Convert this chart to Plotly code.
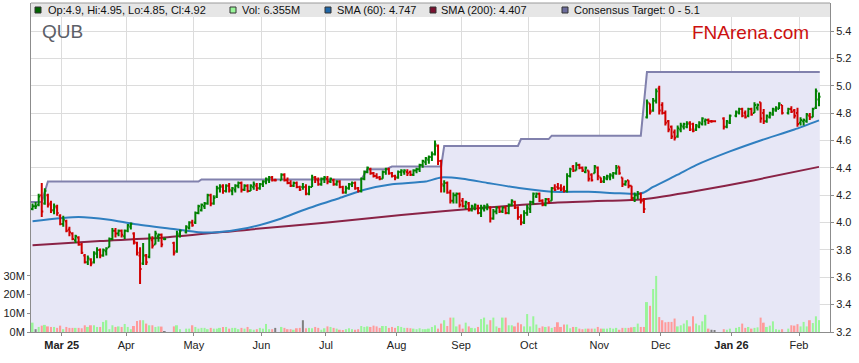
import pandas as pd
import plotly.graph_objects as go

FONT = "Liberation Sans, Arial, sans-serif"

# ---------------- trading calendar (ASX) ----------------
HOLIDAYS = ["2025-04-18", "2025-04-21", "2025-04-25", "2025-06-09",
            "2025-12-25", "2025-12-26", "2026-01-01", "2026-01-26"]

# ---------------- daily prices (Feb 17 2025 .. Feb 10 2026) ----------------
opens = [
    4.10, 4.12, 4.13, 4.20, 4.14, 4.20, 4.14, 4.09, 4.11, 4.05,  # Feb
    3.99, 4.01, 3.95, 3.92, 3.87, 3.89, 3.84, 3.76, 3.71, 3.73, 3.71, 3.77, 3.80, 3.76, 3.79, 3.82, 3.88, 3.94, 3.92, 3.94, 3.90,  # Mar
    3.94, 3.97, 3.92, 3.85, 3.76, 3.70, 3.76, 3.75, 3.87, 3.84, 3.90, 3.91, 3.88, 3.85, 3.79, 3.91, 3.93, 3.96, 4.00,  # Apr
    4.00, 4.07, 4.09, 4.12, 4.14, 4.20, 4.14, 4.19, 4.25, 4.27, 4.23, 4.27, 4.23, 4.24, 4.27, 4.29, 4.24, 4.27, 4.23, 4.26, 4.27, 4.25,  # May
    4.28, 4.30, 4.31, 4.33, 4.31, 4.31, 4.35, 4.31, 4.29, 4.27, 4.29, 4.26, 4.26, 4.26, 4.21, 4.26, 4.33, 4.31, 4.28, 4.32,  # Jun
    4.32, 4.30, 4.31, 4.28, 4.30, 4.26, 4.22, 4.25, 4.28, 4.29, 4.25, 4.23, 4.32, 4.37, 4.39, 4.36, 4.34, 4.33, 4.32, 4.37, 4.39, 4.36, 4.34,  # Jul
    4.33, 4.37, 4.37, 4.37, 4.37, 4.35, 4.38, 4.39, 4.42, 4.44, 4.46, 4.48, 4.50, 4.56, 4.45, 4.27, 4.29, 4.22, 4.16, 4.20, 4.21,  # Aug
    4.16, 4.12, 4.14, 4.09, 4.11, 4.12, 4.07, 4.10, 4.11, 4.11, 4.03, 4.08, 4.11, 4.08, 4.11, 4.07, 4.13, 4.15, 4.11, 4.04, 4.00, 4.07,  # Sep
    4.10, 4.15, 4.19, 4.21, 4.16, 4.13, 4.17, 4.16, 4.25, 4.26, 4.25, 4.25, 4.23, 4.34, 4.41, 4.38, 4.42, 4.40, 4.37, 4.38, 4.35, 4.36, 4.40,  # Oct
    4.33, 4.30, 4.32, 4.33, 4.34, 4.36, 4.41, 4.33, 4.28, 4.31, 4.27, 4.18, 4.20, 4.21, 4.16, 4.77, 4.87, 4.82, 4.89, 4.98,  # Nov
    4.86, 4.80, 4.74, 4.70, 4.66, 4.63, 4.68, 4.70, 4.70, 4.73, 4.72, 4.68, 4.70, 4.72, 4.74, 4.75, 4.74, 4.74, 4.76, 4.70, 4.73,  # Dec
    4.78, 4.80, 4.83, 4.80, 4.78, 4.83, 4.80, 4.84, 4.88, 4.80, 4.74, 4.77, 4.79, 4.82, 4.83, 4.86, 4.80, 4.83, 4.82, 4.80,  # Jan
    4.73, 4.74, 4.74, 4.78, 4.77, 4.84, 4.90,  # Feb
]
highs = [
    4.14, 4.15, 4.21, 4.29, 4.25, 4.21, 4.16, 4.14, 4.13, 4.06,
    4.05, 4.02, 3.97, 3.93, 3.91, 3.90, 3.85, 3.77, 3.76, 3.74, 3.79, 3.82, 3.81, 3.81, 3.82, 3.89, 3.96, 3.96, 3.95, 3.95, 3.95,
    3.99, 4.00, 3.93, 3.86, 3.82, 3.85, 3.77, 3.92, 3.90, 3.94, 3.92, 3.92, 3.89, 3.86, 3.94, 3.95, 3.98, 4.01, 4.02,
    4.08, 4.13, 4.14, 4.15, 4.21, 4.21, 4.20, 4.27, 4.28, 4.28, 4.28, 4.29, 4.26, 4.28, 4.30, 4.30, 4.28, 4.28, 4.28, 4.30, 4.29, 4.29,
    4.31, 4.33, 4.34, 4.34, 4.32, 4.36, 4.36, 4.33, 4.31, 4.30, 4.30, 4.27, 4.29, 4.28, 4.27, 4.35, 4.34, 4.33, 4.33, 4.34,
    4.34, 4.33, 4.32, 4.31, 4.31, 4.27, 4.27, 4.29, 4.30, 4.30, 4.26, 4.33, 4.38, 4.41, 4.40, 4.37, 4.36, 4.34, 4.38, 4.40, 4.40, 4.37, 4.35,
    4.38, 4.39, 4.39, 4.39, 4.38, 4.39, 4.40, 4.43, 4.46, 4.48, 4.49, 4.52, 4.60, 4.57, 4.46, 4.31, 4.30, 4.24, 4.22, 4.22, 4.22,
    4.18, 4.16, 4.15, 4.13, 4.14, 4.13, 4.13, 4.13, 4.14, 4.12, 4.10, 4.12, 4.12, 4.12, 4.12, 4.14, 4.17, 4.16, 4.12, 4.06, 4.09, 4.13,
    4.16, 4.22, 4.22, 4.22, 4.17, 4.18, 4.18, 4.26, 4.28, 4.29, 4.28, 4.27, 4.36, 4.40, 4.42, 4.44, 4.43, 4.41, 4.41, 4.38, 4.36, 4.42, 4.41,
    4.33, 4.34, 4.35, 4.36, 4.37, 4.42, 4.41, 4.33, 4.31, 4.31, 4.27, 4.22, 4.23, 4.22, 4.18, 4.90, 4.87, 4.91, 4.98, 5.00,
    4.88, 4.82, 4.75, 4.71, 4.68, 4.71, 4.73, 4.73, 4.74, 4.74, 4.73, 4.72, 4.74, 4.77, 4.76, 4.76, 4.75, 4.74, 4.77, 4.75, 4.79,
    4.82, 4.84, 4.84, 4.82, 4.84, 4.84, 4.88, 4.87, 4.88, 4.83, 4.79, 4.81, 4.84, 4.85, 4.88, 4.86, 4.84, 4.85, 4.83, 4.84,
    4.77, 4.76, 4.80, 4.80, 4.84, 4.98, 4.95,
]
lows = [
    4.09, 4.10, 4.12, 4.04, 4.13, 4.11, 4.07, 4.06, 4.05, 3.98,
    3.97, 3.93, 3.90, 3.87, 3.85, 3.83, 3.77, 3.70, 3.69, 3.68, 3.70, 3.74, 3.74, 3.75, 3.76, 3.82, 3.87, 3.89, 3.90, 3.89, 3.88,
    3.93, 3.95, 3.84, 3.76, 3.55, 3.69, 3.69, 3.74, 3.81, 3.84, 3.86, 3.82, 3.87, 3.76, 3.78, 3.89, 3.92, 3.95, 3.97,
    3.99, 4.06, 4.08, 4.10, 4.13, 4.12, 4.13, 4.18, 4.22, 4.21, 4.22, 4.22, 4.20, 4.22, 4.25, 4.22, 4.23, 4.22, 4.23, 4.24, 4.23, 4.24,
    4.26, 4.28, 4.29, 4.30, 4.30, 4.31, 4.30, 4.28, 4.26, 4.26, 4.25, 4.23, 4.24, 4.20, 4.20, 4.26, 4.29, 4.27, 4.27, 4.29,
    4.28, 4.29, 4.27, 4.27, 4.25, 4.21, 4.21, 4.24, 4.26, 4.24, 4.22, 4.22, 4.31, 4.36, 4.35, 4.33, 4.32, 4.31, 4.32, 4.35, 4.35, 4.33, 4.31,
    4.32, 4.34, 4.35, 4.34, 4.34, 4.34, 4.36, 4.37, 4.40, 4.42, 4.43, 4.45, 4.49, 4.42, 4.22, 4.22, 4.21, 4.14, 4.14, 4.14, 4.11,
    4.11, 4.10, 4.08, 4.08, 4.09, 4.06, 4.04, 4.08, 4.09, 4.00, 4.02, 4.06, 4.07, 4.07, 4.06, 4.06, 4.12, 4.10, 4.02, 3.98, 3.99, 4.05,
    4.07, 4.13, 4.18, 4.15, 4.12, 4.12, 4.14, 4.16, 4.23, 4.24, 4.23, 4.22, 4.22, 4.33, 4.37, 4.38, 4.39, 4.37, 4.36, 4.30, 4.30, 4.36, 4.31,
    4.29, 4.29, 4.31, 4.31, 4.32, 4.35, 4.35, 4.26, 4.27, 4.25, 4.16, 4.15, 4.17, 4.14, 4.07, 4.76, 4.79, 4.81, 4.87, 4.79,
    4.79, 4.71, 4.66, 4.61, 4.60, 4.62, 4.66, 4.68, 4.69, 4.67, 4.66, 4.67, 4.69, 4.71, 4.71, 4.72, 4.73, 4.74, 4.68, 4.69, 4.72,
    4.77, 4.79, 4.77, 4.76, 4.77, 4.78, 4.80, 4.82, 4.73, 4.72, 4.73, 4.76, 4.78, 4.81, 4.83, 4.79, 4.79, 4.80, 4.76, 4.70,
    4.71, 4.71, 4.73, 4.75, 4.77, 4.83, 4.85,
]
closes = [
    4.12, 4.12, 4.19, 4.08, 4.23, 4.13, 4.09, 4.12, 4.07, 3.99,
    4.02, 3.94, 3.93, 3.88, 3.90, 3.84, 3.78, 3.71, 3.74, 3.70, 3.78, 3.80, 3.76, 3.80, 3.81, 3.88, 3.94, 3.92, 3.94, 3.91, 3.94,
    3.98, 3.99, 3.86, 3.78, 3.66, 3.76, 3.71, 3.89, 3.83, 3.92, 3.91, 3.84, 3.88, 3.78, 3.92, 3.94, 3.97, 4.00, 3.98,
    4.07, 4.12, 4.13, 4.14, 4.20, 4.14, 4.18, 4.25, 4.26, 4.23, 4.27, 4.24, 4.25, 4.27, 4.29, 4.24, 4.27, 4.23, 4.27, 4.28, 4.25, 4.28,
    4.30, 4.32, 4.33, 4.31, 4.31, 4.35, 4.31, 4.29, 4.27, 4.29, 4.26, 4.24, 4.26, 4.21, 4.26, 4.33, 4.32, 4.28, 4.32, 4.33,
    4.30, 4.32, 4.28, 4.30, 4.26, 4.22, 4.25, 4.28, 4.29, 4.25, 4.23, 4.32, 4.37, 4.40, 4.36, 4.34, 4.33, 4.32, 4.37, 4.39, 4.36, 4.34, 4.33,
    4.37, 4.38, 4.38, 4.36, 4.35, 4.38, 4.39, 4.42, 4.45, 4.47, 4.48, 4.50, 4.57, 4.45, 4.28, 4.29, 4.22, 4.16, 4.20, 4.21, 4.13,
    4.12, 4.15, 4.09, 4.12, 4.13, 4.07, 4.11, 4.12, 4.12, 4.03, 4.08, 4.11, 4.08, 4.11, 4.07, 4.13, 4.16, 4.11, 4.04, 4.00, 4.07, 4.11,
    4.15, 4.21, 4.21, 4.16, 4.13, 4.17, 4.15, 4.25, 4.24, 4.25, 4.24, 4.23, 4.34, 4.39, 4.38, 4.42, 4.40, 4.38, 4.40, 4.32, 4.31, 4.41, 4.34,
    4.30, 4.33, 4.34, 4.35, 4.36, 4.40, 4.36, 4.28, 4.30, 4.27, 4.18, 4.20, 4.21, 4.16, 4.10, 4.88, 4.81, 4.89, 4.96, 4.82,
    4.80, 4.73, 4.68, 4.63, 4.62, 4.69, 4.71, 4.72, 4.72, 4.68, 4.67, 4.71, 4.73, 4.76, 4.75, 4.74, 4.74, 4.74, 4.70, 4.74, 4.78,
    4.81, 4.83, 4.78, 4.77, 4.83, 4.79, 4.86, 4.86, 4.76, 4.74, 4.78, 4.80, 4.83, 4.84, 4.87, 4.80, 4.83, 4.81, 4.78, 4.72,
    4.75, 4.75, 4.79, 4.77, 4.83, 4.96, 4.92,
]
volumes_m = [
    5.0, 1.5, 2.7, 3.4, 3.8, 3.0, 2.7, 2.7, 2.2, 3.4,
    1.5, 2.7, 2.2, 2.2, 2.2, 2.2, 2.0, 3.6, 2.7, 3.6, 3.6, 2.7, 2.7, 5.4, 6.3, 1.5, 3.6, 2.7, 3.0, 2.7, 4.3,
    2.7, 1.5, 3.2, 5.9, 6.3, 6.3, 4.5, 3.6, 3.6, 2.7, 3.0, 2.9, 0.4, 3.0, 3.6, 1.5, 1.8, 1.8, 3.6,
    2.7, 1.8, 2.2, 2.2, 1.5, 2.2, 1.8, 1.8, 2.2, 2.7, 2.7, 1.8, 2.2, 2.2, 1.5, 2.2, 1.8, 2.7, 1.5, 1.2, 1.5, 2.2,
    1.8, 4.3, 1.5, 1.5, 2.2, 2.7, 2.2, 1.5, 1.5, 1.2, 2.0, 2.2, 6.3, 2.0, 2.2, 2.0, 2.7, 2.2, 1.2, 2.0,
    3.0, 2.7, 2.2, 1.8, 1.2, 1.0, 1.5, 2.0, 1.5, 1.2, 1.5, 3.2, 2.7, 3.0, 2.7, 3.4, 3.0, 2.2, 3.2, 3.2, 2.2, 2.7, 2.2,
    3.2, 2.7, 2.2, 2.2, 2.0, 1.8, 1.5, 2.0, 1.5, 1.5, 1.8, 2.7, 3.6, 1.8, 4.5, 6.3, 3.2, 7.7, 7.7, 3.0, 4.0,
    1.8, 5.0, 3.0, 2.2, 2.0, 2.7, 6.9, 7.7, 4.0, 6.3, 7.7, 3.0, 2.2, 7.7, 7.7, 3.6, 3.6, 3.0, 5.0, 4.2, 3.0, 9.6,
    3.0, 8.4, 4.0, 2.2, 3.0, 2.7, 3.0, 2.2, 2.7, 5.2, 2.7, 4.0, 4.0, 2.0, 2.7, 2.7, 1.8, 1.5, 1.8, 1.8, 1.8, 1.8, 2.7,
    1.8, 1.8, 1.8, 2.2, 1.8, 2.2, 1.2, 2.2, 2.2, 2.2, 2.5, 2.7, 4.5, 2.7, 2.7, 16.0, 14.0, 23.0, 30.0, 8.0,
    6.3, 5.2, 5.4, 5.4, 7.2, 3.0, 3.6, 4.5, 6.3, 3.0, 8.4, 4.5, 3.6, 5.7, 9.2, 1.8, 1.2, 0.6, 1.5, 1.2, 1.8,
    2.2, 2.7, 4.5, 2.2, 2.7, 1.8, 2.2, 2.5, 7.7, 5.0, 2.7, 3.4, 5.7, 1.5, 1.2, 1.5, 1.8, 3.6, 3.4, 4.2,
    3.0, 5.4, 3.0, 6.3, 4.8, 8.4, 6.355,
]

# ---------------- moving averages ----------------
sma60_dates = ["2025-02-17", "2025-03-10", "2025-03-24", "2025-04-03", "2025-04-23", "2025-05-02",
               "2025-05-12", "2025-05-26", "2025-06-10", "2025-06-19", "2025-07-07", "2025-07-17",
               "2025-07-30", "2025-08-14", "2025-08-21", "2025-09-01", "2025-09-11", "2025-09-26",
               "2025-10-10", "2025-10-28", "2025-11-10", "2025-11-19", "2025-11-21", "2025-11-26",
               "2025-12-08", "2025-12-16", "2025-12-31", "2026-01-14", "2026-01-29", "2026-02-10"]
sma60_vals = [4.01, 4.04, 4.02, 3.99, 3.95, 3.93, 3.93, 3.96, 4.03, 4.09, 4.18, 4.24, 4.28, 4.30, 4.33,
              4.32, 4.29, 4.25, 4.225, 4.225, 4.215, 4.21, 4.22, 4.26, 4.35, 4.42, 4.52, 4.60, 4.68, 4.747]

sma200_dates = ["2025-02-17", "2025-03-19", "2025-04-17", "2025-05-27", "2025-07-01", "2025-08-04",
                "2025-09-10", "2025-10-13", "2025-11-17", "2025-11-21", "2025-12-16", "2026-01-12",
                "2026-02-10"]
sma200_vals = [3.835, 3.865, 3.89, 3.95, 4.00, 4.055, 4.108, 4.145, 4.165, 4.17, 4.23, 4.31, 4.407]

# ---------------- consensus target (step line) ----------------
target_dates = ["2025-02-17 00:00", "2025-02-20 12:00", "2025-02-24 12:00", "2025-05-02 12:00",
                "2025-05-05 12:00", "2025-07-16 12:00", "2025-07-18 12:00", "2025-07-28 12:00",
                "2025-07-30 12:00", "2025-08-21 12:00", "2025-08-22 12:00", "2025-09-25 12:00",
                "2025-09-26 12:00", "2025-10-09 12:00", "2025-10-10 12:00", "2025-11-20 12:00",
                "2025-11-24 12:00", "2026-02-10 18:00"]
target_vals = [4.15, 4.15, 4.30, 4.30, 4.315, 4.315, 4.39, 4.39, 4.41, 4.41, 4.56, 4.56,
               4.61, 4.61, 4.635, 4.635, 5.10, 5.10]
target_low = 0

# ---------------- axis ticks ----------------
month_ticks = ["2025-03-03", "2025-04-01", "2025-05-01", "2025-06-02", "2025-07-01", "2025-08-01",
               "2025-09-01", "2025-10-01", "2025-11-03", "2025-12-01", "2026-01-01", "2026-02-02"]
month_labels = ["<b>Mar 25</b>", "Apr", "May", "Jun", "Jul", "Aug", "Sep", "Oct", "Nov", "Dec",
                "<b>Jan 26</b>", "Feb"]
price_ticks = [3.2, 3.4, 3.6, 3.8, 4.0, 4.2, 4.4, 4.6, 4.8, 5.0, 5.2, 5.4]
vol_ticks = [0, 10, 20, 30]

# ---------------- build ----------------
trade_days = [d for d in pd.bdate_range("2025-02-17", "2026-02-10")
              if d.strftime("%Y-%m-%d") not in HOLIDAYS]
n = len(trade_days)
for name, arr in [("opens", opens), ("highs", highs), ("lows", lows), ("closes", closes), ("volumes", volumes_m)]:
    assert len(arr) == n, f"{name}: {len(arr)} != {n}"
x_days = [d + pd.Timedelta(hours=12) for d in trade_days]
noon = lambda ds: [pd.Timestamp(d) + pd.Timedelta(hours=12) for d in ds]

UP, DOWN = "#008000", "#d00000"
vol_colors = []
for o, c in zip(opens, closes):
    vol_colors.append("#99f599" if c > o else ("#ff9a9a" if c < o else "#808080"))

PRICE_RANGE = [3.2, 5.605]

fig = go.Figure()
# main price subplot: consensus area + moving averages
fig.add_trace(go.Scatter(x=target_dates, y=target_vals, mode="lines",
                         line=dict(color="#8181ad", width=2), fill="tozeroy",
                         fillcolor="#e7e7f6", hoverinfo="skip"))
fig.add_trace(go.Scatter(x=noon(sma200_dates), y=sma200_vals, mode="lines",
                         line=dict(color="#8a2346", width=2, shape="spline", smoothing=0.6),
                         hoverinfo="skip"))
fig.add_trace(go.Scatter(x=noon(sma60_dates), y=sma60_vals, mode="lines",
                         line=dict(color="#2f7fc0", width=2, shape="spline", smoothing=0.6),
                         hoverinfo="skip"))
# volume overlay
fig.add_trace(go.Bar(x=x_days, y=volumes_m, yaxis="y2", width=0.65 * 86400000,
                     marker=dict(color=vol_colors, line=dict(width=0)), hoverinfo="skip"))
# price bars on an overlaid copy of the price axis, so they sit above the filled area
fig.add_trace(go.Ohlc(x=x_days, open=opens, high=highs, low=lows, close=closes, yaxis="y3",
                      increasing=dict(line=dict(color=UP, width=2)),
                      decreasing=dict(line=dict(color=DOWN, width=2)),
                      tickwidth=0.5, hoverinfo="skip"))

W, H = 859, 363
L, R, T, B = 31, 830, 3, 332
px = lambda v: (v - L) / (R - L)
py = lambda v: (B - v) / (B - T)

shapes = [
    dict(type="rect", xref="paper", yref="paper", x0=0, x1=1, y0=py(17), y1=1,
         fillcolor="#e6e6e6", line=dict(width=0), layer="above"),
    dict(type="line", xref="paper", yref="paper", x0=0, x1=1, y0=1, y1=1,
         line=dict(color="#9a9a9a", width=1), layer="above"),
]
legend_items = [
    (35, "#006400", f"Op:{opens[-1]:g}, Hi:{highs[-1]:g}, Lo:{lows[-1]:g}, Cl:{closes[-1]:g}", 46),
    (230, "#99f599", f"Vol: {volumes_m[-1]:.3f}M", 240),
    (325, "#1f67a8", f"SMA (60): {sma60_vals[-1]:.3f}", 335),
    (430, "#7a1230", f"SMA (200): {sma200_vals[-1]:.3f}", 439),
    (562, "#6c6c9c", f"Consensus Target: {target_low:g} - {target_vals[-1]:g}", 572),
]
annotations = []
for sx, col, txt, tx in legend_items:
    shapes.append(dict(type="rect", xref="paper", yref="paper", x0=px(sx), x1=px(sx + 6),
                       y0=py(13), y1=py(7), fillcolor=col, line=dict(color="#333333", width=1),
                       layer="above"))
    annotations.append(dict(text=txt, xref="paper", yref="paper", x=px(tx), y=py(10),
                            xanchor="left", yanchor="middle", showarrow=False,
                            font=dict(family=FONT, size=11, color="#111111")))
annotations.append(dict(text="QUB", xref="paper", yref="paper", x=px(40), y=py(32),
                        xanchor="left", yanchor="middle", showarrow=False,
                        font=dict(family=FONT, size=19, color="#5c6068")))
annotations.append(dict(text="FNArena.com", xref="paper", yref="paper", x=px(690), y=py(33),
                        xanchor="left", yanchor="middle", showarrow=False,
                        font=dict(family=FONT, size=19, color="#cc1010")))

axis_common = dict(showline=True, linecolor="#8c8c8c", linewidth=1, ticks="outside", ticklen=3,
                   tickcolor="#8c8c8c", zeroline=False, fixedrange=True,
                   tickfont=dict(family=FONT, size=11, color="#222222"))

fig.update_layout(
    width=W, height=H,
    margin=dict(l=L, r=W - R, t=T, b=H - B, pad=0),
    paper_bgcolor="white", plot_bgcolor="white",
    showlegend=False, hovermode=False,
    xaxis=dict(type="date", range=["2025-02-17 00:00", "2026-02-16 02:00"],
               rangebreaks=[dict(bounds=["sat", "mon"])],
               rangeslider=dict(visible=False),
               tickvals=month_ticks, ticktext=month_labels,
               showgrid=True, gridcolor="#dcdcdc", gridwidth=1, **axis_common),
    yaxis=dict(side="right", range=PRICE_RANGE, tickvals=price_ticks,
               ticktext=[f"{v:.1f}" for v in price_ticks],
               showgrid=True, gridcolor="#dcdcdc", gridwidth=1, **axis_common),
    yaxis2=dict(side="left", overlaying="y", range=[0, 176], tickvals=vol_ticks,
                ticktext=[f"{v}M" for v in vol_ticks], showgrid=False, **axis_common),
    yaxis3=dict(side="right", overlaying="y", range=PRICE_RANGE, visible=False,
                showgrid=False, zeroline=False, fixedrange=True),
    shapes=shapes, annotations=annotations,
)

fig.write_html("out.html", config={"displayModeBar": False},
               post_script="document.body.style.margin='0';document.body.style.overflow='hidden';")
